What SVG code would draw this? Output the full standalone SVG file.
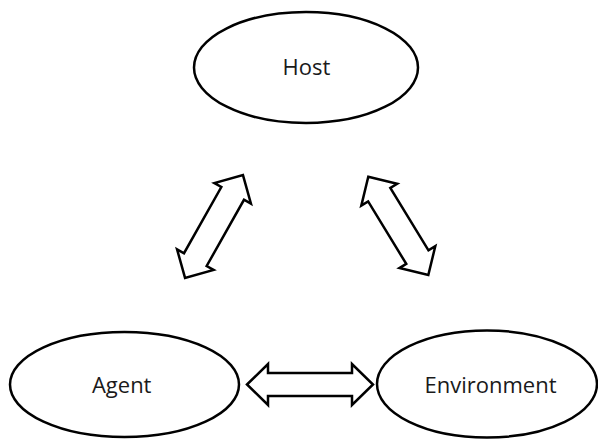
<svg xmlns="http://www.w3.org/2000/svg" width="598" height="439" viewBox="0 0 598 439">
<style>
.node ellipse{fill:#fff;stroke:#000;stroke-width:2.5}
.node text{font-family:"Open Sans","Liberation Sans",sans-serif;font-size:22px;fill:#1a1a1a;text-anchor:middle}
.conn path{fill:#fff;stroke:#000;stroke-width:2.5;stroke-linejoin:miter}
</style>
<rect width="598" height="439" fill="#fff"/>
<g id="host" class="node">
<ellipse cx="306" cy="67.5" rx="112" ry="55.5"/>
<text x="306.5" y="75">Host</text>
</g>
<g id="agent" class="node">
<ellipse cx="124.5" cy="384.5" rx="114.5" ry="52.5"/>
<text x="121.7" y="393">Agent</text>
</g>
<g id="environment" class="node">
<ellipse cx="487" cy="384" rx="110" ry="53.5"/>
<text x="490.5" y="393">Environment</text>
</g>
<g id="connectors" class="conn">
<path transform="translate(214,226.5) rotate(-60.6)" d="M-59,0 L-38,-21 L-38,-13 L38,-13 L38,-21 L59,0 L38,21 L38,13 L-38,13 L-38,21 Z"/>
<path transform="translate(398.3,225.9) rotate(58.6)" d="M-57.6,0 L-36.6,-21 L-36.6,-13 L36.6,-13 L36.6,-21 L57.6,0 L36.6,21 L36.6,13 L-36.6,13 L-36.6,21 Z"/>
<path transform="translate(310,384.5)" d="M-63,0 L-42,-20.5 L-42,-11.5 L42,-11.5 L42,-20.5 L63,0 L42,20.5 L42,11.5 L-42,11.5 L-42,20.5 Z"/>
</g>
</svg>
